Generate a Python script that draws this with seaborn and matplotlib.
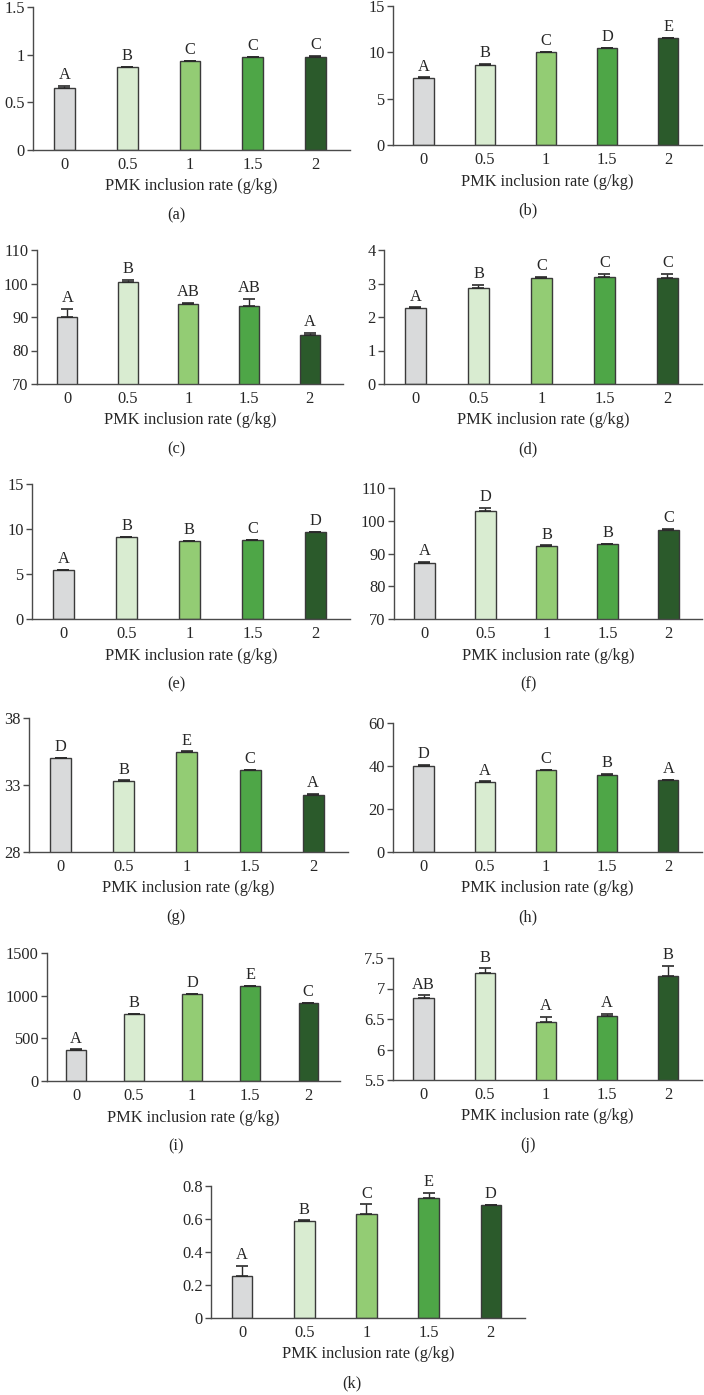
import matplotlib
matplotlib.use("Agg")
import matplotlib.pyplot as plt
import numpy as np
import pandas as pd
import seaborn as sns

# PMK inclusion rate (g/kg)
rates = ["0", "0.5", "1", "1.5", "2"]
bar_colors = ["#d9dadb", "#d9ecd1", "#93cc74", "#4ea647", "#2b5a2b"]

# panel values (mean), upper error, significance letters
a_vals = [0.655, 0.866, 0.933, 0.972, 0.979]
a_errs = [0.017, 0.004, 0.005, 0.005, 0.005]
a_letters = ["A", "B", "C", "C", "C"]

b_vals = [7.23, 8.67, 10.0, 10.43, 11.55]
b_errs = [0.06, 0.05, 0.05, 0.06, 0.05]
b_letters = ["A", "B", "C", "D", "E"]

c_vals = [90.0, 100.5, 93.8, 93.4, 84.5]
c_errs = [2.4, 0.5, 0.5, 2.0, 0.8]
c_letters = ["A", "B", "AB", "AB", "A"]

d_vals = [2.27, 2.87, 3.17, 3.20, 3.17]
d_errs = [0.02, 0.10, 0.02, 0.09, 0.11]
d_letters = ["A", "B", "C", "C", "C"]

e_vals = [5.44, 9.11, 8.67, 8.78, 9.67]
e_errs = [0.04, 0.04, 0.04, 0.04, 0.04]
e_letters = ["A", "B", "B", "C", "D"]

f_vals = [87.2, 102.9, 92.4, 92.8, 97.2]
f_errs = [0.2, 1.1, 0.1, 0.2, 0.4]
f_letters = ["A", "D", "B", "B", "C"]

g_vals = [35.03, 33.3, 35.48, 34.1, 32.28]
g_errs = [0.02, 0.05, 0.03, 0.05, 0.05]
g_letters = ["D", "B", "E", "C", "A"]

h_vals = [40.2, 32.4, 38.0, 36.0, 33.5]
h_errs = [0.2, 0.4, 0.2, 0.3, 0.2]
h_letters = ["D", "A", "C", "B", "A"]

i_vals = [366, 787, 1020, 1114, 913]
i_errs = [4, 4, 4, 4, 4]
i_letters = ["A", "B", "D", "E", "C"]

j_vals = [6.846, 7.25, 6.445, 6.55, 7.2]
j_errs = [0.04, 0.08, 0.09, 0.03, 0.17]
j_letters = ["AB", "B", "A", "A", "B"]

k_vals = [0.257, 0.589, 0.631, 0.728, 0.683]
k_errs = [0.058, 0.002, 0.058, 0.03, 0.002]
k_letters = ["A", "B", "C", "E", "D"]

panels = [
    # tag, vals, errs, letters, yticks, ytick labels, axes box px (x0, x1, ytop, ybottom)
    ("a", a_vals, a_errs, a_letters, [0, 0.5, 1, 1.5], ["0", "0.5", "1", "1.5"], (33, 350, 7, 150)),
    ("b", b_vals, b_errs, b_letters, [0, 5, 10, 15], ["0", "5", "10", "15"], (393, 702, 6, 145)),
    ("c", c_vals, c_errs, c_letters, [70, 80, 90, 100, 110], ["70", "80", "90", "100", "110"], (37, 343, 250, 384)),
    ("d", d_vals, d_errs, d_letters, [0, 1, 2, 3, 4], ["0", "1", "2", "3", "4"], (384, 702, 250, 384)),
    ("e", e_vals, e_errs, e_letters, [0, 5, 10, 15], ["0", "5", "10", "15"], (32, 350, 484, 619)),
    ("f", f_vals, f_errs, f_letters, [70, 80, 90, 100, 110], ["70", "80", "90", "100", "110"], (394, 702, 488, 619)),
    ("g", g_vals, g_errs, g_letters, [28, 33, 38], ["28", "33", "38"], (29, 348, 718, 852)),
    ("h", h_vals, h_errs, h_letters, [0, 20, 40, 60], ["0", "20", "40", "60"], (393, 702, 723, 852)),
    ("i", i_vals, i_errs, i_letters, [0, 500, 1000, 1500], ["0", "500", "1000", "1500"], (47, 340, 953, 1081)),
    ("j", j_vals, j_errs, j_letters, [5.5, 6, 6.5, 7, 7.5], ["5.5", "6", "6.5", "7", "7.5"], (393, 702, 958, 1080)),
    ("k", k_vals, k_errs, k_letters, [0, 0.2, 0.4, 0.6, 0.8], ["0", "0.2", "0.4", "0.6", "0.8"], (211, 525, 1186, 1318)),
]

W, H = 704, 1395
FS = 11.8
sns.set_style("ticks")
plt.rcParams['font.family'] = ['Liberation Serif', 'DejaVu Serif']
plt.rcParams['font.size'] = FS
axis_col = "#4a4a4a"
edge_col = "#3a3a3a"

fig = plt.figure(figsize=(W / 100, H / 100), dpi=100)

for tag, vals, errs, letters, yticks, ylabels, (x0, x1, yt, yb) in panels:
    ax = fig.add_axes([x0 / W, 1 - yb / H, (x1 - x0) / W, (yb - yt) / H])
    df = pd.DataFrame({"rate": rates, "value": vals})
    sns.barplot(data=df, x="rate", y="value", hue="rate", order=rates, hue_order=rates,
                palette=bar_colors, saturation=1, legend=False, width=0.33,
                edgecolor=edge_col, linewidth=1.0, ax=ax)
    ax.errorbar(np.arange(5), vals, yerr=[np.zeros(5), errs], fmt="none",
                ecolor="#2a2a2a", elinewidth=1.0, capsize=4.5, capthick=1.2, zorder=3)
    for xi, (v, e, lt) in enumerate(zip(vals, errs, letters)):
        ax.annotate(lt, (xi, v + e), xytext=(0, 2), textcoords="offset points",
                    ha="center", va="bottom", fontsize=FS)
    ax.set_xlim(-0.5, 4.55)
    ax.set_ylim(yticks[0], yticks[-1])
    ax.set_yticks(yticks)
    ax.set_yticklabels(ylabels)
    ax.set_xlabel("PMK inclusion rate (g/kg)", fontsize=FS, labelpad=4)
    ax.set_ylabel("")
    sns.despine(ax=ax)
    for s in ("left", "bottom"):
        ax.spines[s].set_color(axis_col)
        ax.spines[s].set_linewidth(1.0)
    ax.tick_params(axis="y", length=4, width=1.0, color=axis_col, pad=2, labelsize=FS)
    ax.tick_params(axis="x", length=0, pad=5, labelsize=FS)
    ax.set_facecolor("none")
    # sub-panel tag centred on its column
    cx = 352 if tag == "k" else (176 if (x0 < 300) else 528)
    fig.text(cx / W, 1 - (yb + 65) / H, f"({tag})", ha="center", va="center", fontsize=FS)

fig.savefig("out.png", dpi=100)
